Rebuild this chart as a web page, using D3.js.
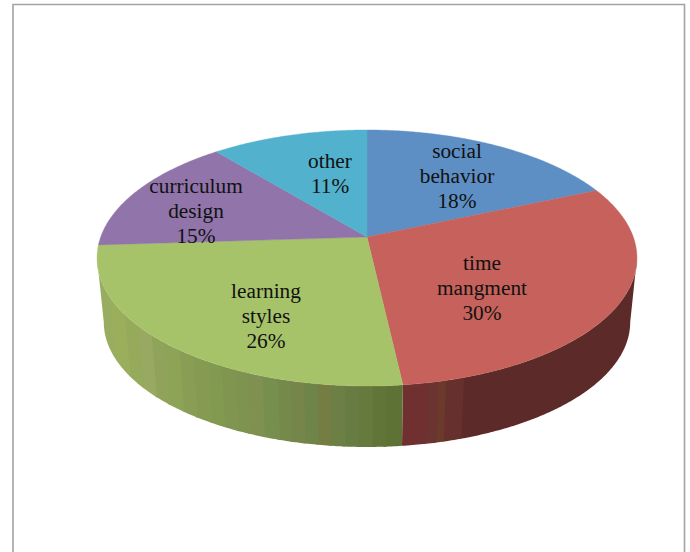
<!DOCTYPE html>
<html><head><meta charset="utf-8">
<script src="https://cdn.jsdelivr.net/npm/d3@7"></script>
<style>html,body{margin:0;padding:0;background:#fff}svg{display:block}</style>
</head><body><div id="chart"></div>
<script>
const categories = ["social behavior", "time mangment", "learning styles", "curriculum design", "other"];
const labelLines = [["social","behavior","18%"],["time","mangment","30%"],["learning","styles","26%"],["curriculum","design","15%"],["other","11%"]];
const values = [18.5, 29.7, 25.8, 15, 11];
const topColors = ["#5d8fc5", "#c6615c", "#a7c36a", "#9074aa", "#52b1cc"];
const greenBands = ["#98ad5f","#9aae5c","#95aa5a","#98a962","#8fa45a","#8da457","#8a9d55","#859b52","#829a50","#809550","#7f9350","#7f9050","#778f4e","#758a4a","#76854a","#6f8448","#757d42","#6c8045","#677c42","#667a3e","#617539","#5f7236"];
const redBands = ["#6f302f","#6f302f","#6f302f","#6b3431","#6b3a2b","#66302d","#66302d","#5c2a28"];
const wallBands = [["#3f678f"], redBands, greenBands, ["#75608c"], ["#3c8298"]];

const W = 690, H = 552;
const svg = d3.select("#chart").append("svg").attr("width", W).attr("height", H);

// frame
svg.append("path")
  .attr("d", d3.line()([[13, H], [13, 4.5], [684.5, 4.5], [684.5, H]]))
  .attr("fill", "none").attr("stroke", "#a3a3a3").attr("stroke-width", 1.6);

// Perspective of the tilted disc
const cx = 367, cy = 237, persp = 0.164, ya = 85.7, R = 266.3;
const depthScale = 0.975, depthShift = 70.6;
const topPt = a => {
  const u = Math.sin(a), v = -Math.cos(a), w = 1 - persp * v;
  return [cx + R * u / w, (ya * v + cy) / w];
};
const botPt = a => {
  const p = topPt(a);
  return [cx + (p[0] - cx) * depthScale, p[1] * depthScale + depthShift];
};
const step = Math.PI / 360;
const arcAngles = (a0, a1) => {
  const n = Math.max(1, Math.ceil((a1 - a0) / step));
  return d3.range(n + 1).map(i => a0 + (a1 - a0) * i / n);
};
const line = d3.line();
const arcs = d3.pie().sort(null).value(d => d)(values);

// side wall: only the part facing the viewer, between the silhouette angles
const silhouette = Math.acos(-persp);
const wall = svg.append("g");
arcs.forEach((s, i) => {
  const a0 = Math.max(s.startAngle, silhouette), a1 = Math.min(s.endAngle, 2 * Math.PI - silhouette);
  if (a1 <= a0) return;
  const angles = arcAngles(a0, a1);
  const xs = d3.extent(angles, a => topPt(a)[0]);
  const dom = i === 1 ? [xs[0], xs[0] + 72] : xs;
  const colour = d3.scaleQuantize().domain(dom).range(wallBands[i]);
  const runs = [];
  angles.slice(0, -1).forEach((a, k) => {
    const c = colour(topPt(a)[0]);
    const last = runs[runs.length - 1];
    if (last && last.c === c) last.end = angles[k + 1];
    else runs.push({ c, start: a, end: angles[k + 1] });
  });
  runs.forEach((r, k) => {
    const end = k < runs.length - 1 ? r.end + step : r.end;
    const as = arcAngles(r.start, end);
    wall.append("path")
      .attr("d", line(as.map(topPt).concat(as.slice().reverse().map(botPt))) + "Z")
      .attr("fill", r.c);
  });
});

// top face
svg.append("g").selectAll("path").data(arcs).join("path")
  .attr("fill", (d, i) => topColors[i])
  .attr("stroke", (d, i) => topColors[i]).attr("stroke-width", 0.4)
  .attr("d", d => line([[cx, cy]].concat(arcAngles(d.startAngle, d.endAngle).map(topPt))) + "Z");

// labels
const labelAnchors = [[457, 158], [482, 270], [266, 298], [196, 193], [330, 168]];
const lineHeight = 25;
const labels = svg.append("g").attr("font-family", "'Liberation Serif', serif")
  .attr("font-size", 21.3).attr("fill", "#111").attr("text-anchor", "middle");
labelLines.forEach((lines, i) => {
  lines.forEach((t, k) => {
    labels.append("text").attr("x", labelAnchors[i][0]).attr("y", labelAnchors[i][1] + k * lineHeight).text(t);
  });
});
</script></body></html>
